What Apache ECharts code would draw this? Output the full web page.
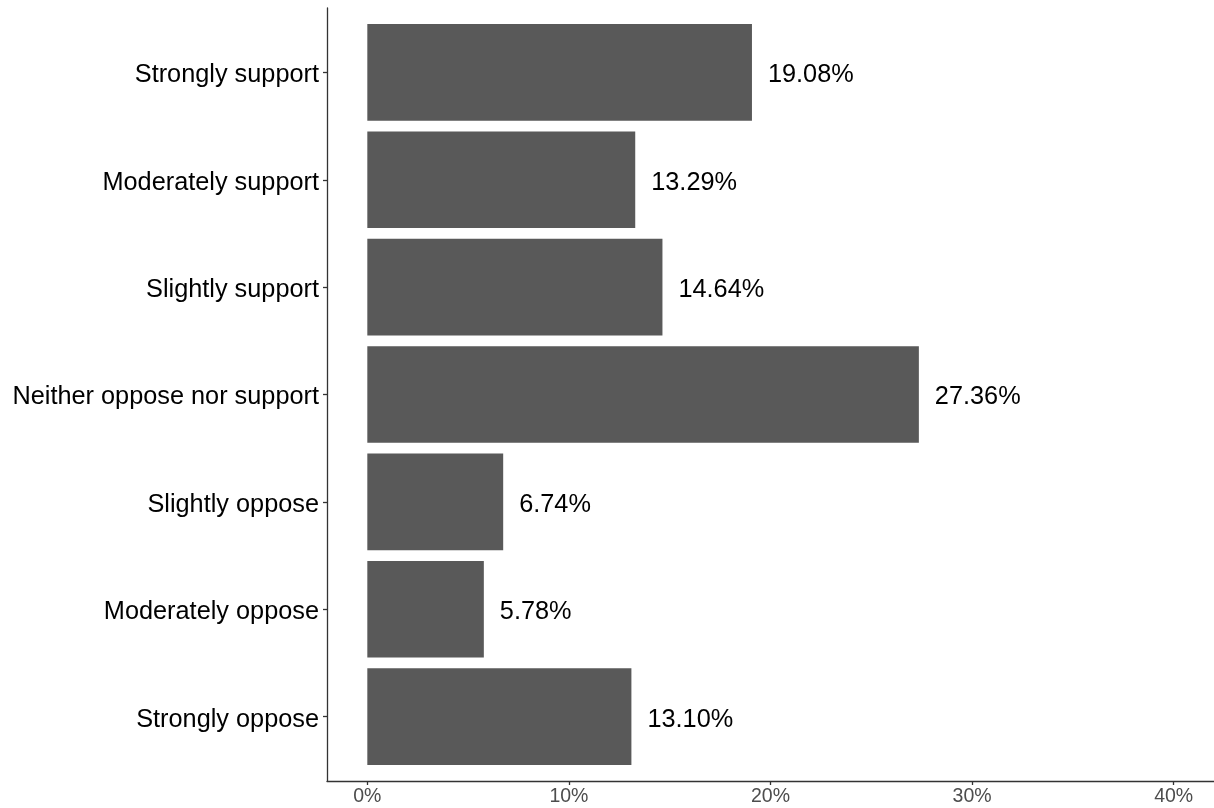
<!DOCTYPE html>
<html>
<head>
<meta charset="utf-8">
<script src="https://cdn.jsdelivr.net/npm/echarts@6/dist/echarts.min.js"></script>
<style>
  html, body { margin: 0; padding: 0; background: #fff; }
  #chart { width: 1214px; height: 808px; }
</style>
</head>
<body>
<div id="chart"></div>
<script>
const categories = [
  "Strongly support",
  "Moderately support",
  "Slightly support",
  "Neither oppose nor support",
  "Slightly oppose",
  "Moderately oppose",
  "Strongly oppose"
];
const percentages = [19.08, 13.29, 14.64, 27.36, 6.74, 5.78, 13.10];
const xTicks = [0, 10, 20, 30, 40];
const yPositions = categories.map((c, i) => i + 1);

const FONT = '"Liberation Sans", Arial, Helvetica, sans-serif';
const chart = echarts.init(document.getElementById('chart'), null, { renderer: 'canvas' });

const seriesData = percentages.map((v, i) => [v, yPositions[i]]);

chart.setOption({
  animation: false,
  backgroundColor: '#ffffff',
  grid: { left: 327, right: 0, top: 8, bottom: 27, containLabel: false },
  xAxis: {
    type: 'value',
    min: -2,
    max: 42,
    position: 'bottom',
    splitLine: { show: false },
    axisLine: { show: true, onZero: false, lineStyle: { color: '#333333', width: 1.3 } },
    axisTick: { show: true, customValues: xTicks, length: 4, lineStyle: { color: '#333333', width: 1.3 } },
    axisLabel: {
      customValues: xTicks,
      formatter: v => v + '%',
      color: '#4d4d4d',
      fontSize: 19.5,
      fontFamily: FONT,
      margin: 6
    }
  },
  yAxis: {
    type: 'value',
    min: 0.4,
    max: 7.6,
    inverse: true,
    splitLine: { show: false },
    axisLine: { show: true, onZero: false, lineStyle: { color: '#333333', width: 1.3 } },
    axisTick: { show: true, customValues: yPositions, length: 4, lineStyle: { color: '#333333', width: 1.3 } },
    axisLabel: {
      customValues: yPositions,
      formatter: v => '{c|' + (categories[Math.round(v) - 1] || '') + '}',
      margin: 8,
      rich: {
        c: {
          color: '#000000',
          fontSize: 25.3,
          fontFamily: FONT,
          padding: [6, 0, 0, 0]
        }
      }
    }
  },
  series: [{
    type: 'custom',
    data: seriesData,
    encode: { x: 0, y: 1 },
    renderItem: function (params, api) {
      const v = api.value(0);
      const pos = api.value(1);
      const start = api.coord([0, pos]);
      const end = api.coord([v, pos]);
      const h = api.size([0, 0.9])[1];
      return {
        type: 'group',
        children: [
          {
            type: 'rect',
            shape: { x: start[0], y: start[1] - h / 2, width: end[0] - start[0], height: h },
            style: { fill: '#595959' }
          },
          {
            type: 'text',
            x: end[0] + 16,
            y: end[1] + 3,
            style: {
              text: v.toFixed(2) + '%',
              fill: '#000000',
              fontSize: 25.3,
              fontFamily: FONT,
              align: 'left',
              verticalAlign: 'middle'
            }
          }
        ]
      };
    }
  }]
});
</script>
</body>
</html>
